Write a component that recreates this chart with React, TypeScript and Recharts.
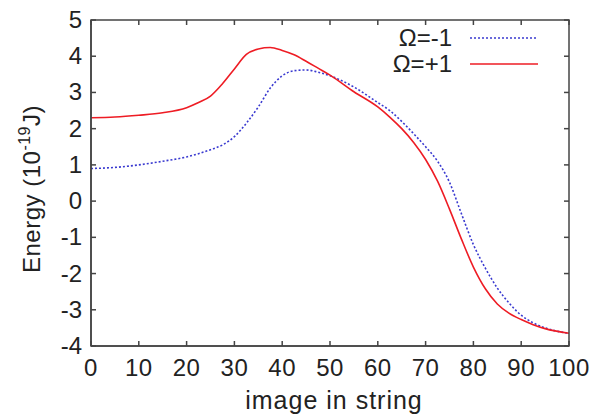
import React from 'react';
import { LineChart, Line, XAxis, YAxis } from 'recharts';

// image index along the string
const images = [0, 5, 10, 15, 20, 22.5, 25, 27.5, 30, 32.5, 35, 37.5, 40, 42.5, 45, 47.5, 50, 55, 60, 62.5, 65, 67.5, 70, 72.5, 75, 77.5, 80, 82.5, 85, 87.5, 90, 92.5, 95, 100];

// Energy in 1e-19 J
const omegaMinus = [0.9, 0.93, 1.0, 1.1, 1.22, 1.31, 1.42, 1.55, 1.78, 2.15, 2.6, 3.12, 3.46, 3.6, 3.62, 3.56, 3.46, 3.15, 2.72, 2.5, 2.2, 1.86, 1.5, 1.1, 0.52, -0.35, -1.2, -1.85, -2.4, -2.82, -3.15, -3.36, -3.5, -3.65];
const omegaPlus = [2.3, 2.32, 2.37, 2.44, 2.58, 2.72, 2.9, 3.24, 3.65, 4.05, 4.2, 4.24, 4.16, 4.04, 3.86, 3.67, 3.48, 3.02, 2.6, 2.32, 2.0, 1.62, 1.15, 0.55, -0.22, -1.05, -1.82, -2.42, -2.84, -3.1, -3.27, -3.41, -3.52, -3.65];

const xTicks = [0, 10, 20, 30, 40, 50, 60, 70, 80, 90, 100];
const yTicks = [-4, -3, -2, -1, 0, 1, 2, 3, 4, 5];

const data = images.map((x, i) => ({ x, minus: omegaMinus[i], plus: omegaPlus[i] }));

const font = 'Liberation Sans, Arial, sans-serif';
const axisColor = '#444';
const textColor = '#222';
const blue = '#3a3ad0';
const red = '#ee1c24';
const TICK = 5;
const GAP = 12;

// plot box (margin + axis sizes below)
const PL = 91;
const PT = 20;
const PW = 478;
const PH = 326;

const BottomTick = (p: any) => (
  <text x={p.x} y={p.y + 18} textAnchor="middle" fontSize={24} letterSpacing={0.5} fontFamily={font} fill={textColor}>
    {p.payload.value}
  </text>
);

const LeftTick = (p: any) => (
  <text x={p.x + 3} y={p.y + 8} textAnchor="end" fontSize={24} fontFamily={font} fill={textColor}>
    {p.payload.value}
  </text>
);

const XLabel = (props: any) => {
  const vb = props.viewBox || {};
  return (
    <text x={(vb.x || 0) + (vb.width || 0) / 2 + 4} y={409} textAnchor="middle" fontSize={25} letterSpacing={1} fontFamily={font} fill={textColor}>
      image in string
    </text>
  );
};

const YLabel = (props: any) => {
  const vb = props.viewBox || {};
  const cy = (vb.y || 0) + (vb.height || 0) / 2 + 6;
  const cx = 40;
  return (
    <text
      x={cx}
      y={cy}
      transform={`rotate(-90, ${cx}, ${cy})`}
      textAnchor="middle"
      fontSize={24}
      letterSpacing={0.5}
      fontFamily={font}
      fill={textColor}
    >
      Energy (10<tspan fontSize={16} dy={-10}>-19</tspan>
      <tspan dy={10}>J)</tspan>
    </text>
  );
};

// gnuplot style box with inward ticks on all four sides
const Frame = () => {
  const xs = xTicks.map((v) => PL + (v / 100) * PW);
  const ys = yTicks.map((v) => PT + ((5 - v) / 9) * PH);
  return (
    <svg width={599} height={418} style={{ position: 'absolute', left: 0, top: 0, pointerEvents: 'none' }}>
      <rect x={PL} y={PT} width={PW} height={PH} fill="none" stroke={axisColor} strokeWidth={1.5} />
      {xs.map((x, i) => (
        <g key={'x' + i}>
          <line x1={x} y1={PT + PH} x2={x} y2={PT + PH - TICK} stroke={axisColor} strokeWidth={1.5} />
          <line x1={x} y1={PT} x2={x} y2={PT + TICK} stroke={axisColor} strokeWidth={1.5} />
        </g>
      ))}
      {ys.map((y, i) => (
        <g key={'y' + i}>
          <line x1={PL} y1={y} x2={PL + TICK} y2={y} stroke={axisColor} strokeWidth={1.5} />
          <line x1={PL + PW} y1={y} x2={PL + PW - TICK} y2={y} stroke={axisColor} strokeWidth={1.5} />
        </g>
      ))}
    </svg>
  );
};

const LegendBox = () => {
  const rows = [
    { label: 'Ω=-1', color: blue, dash: '2 2' },
    { label: 'Ω=+1', color: red, dash: undefined },
  ];
  return (
    <div style={{ position: 'absolute', top: 25, left: 300, width: 240, fontFamily: font, fontSize: 24, color: textColor }}>
      {rows.map((r) => (
        <div key={r.label} style={{ display: 'flex', alignItems: 'center', height: 26, justifyContent: 'flex-end' }}>
          <span style={{ marginRight: 18 }}>{r.label}</span>
          <svg width={70} height={6}>
            <line x1={0} y1={3} x2={68} y2={3} stroke={r.color} strokeWidth={1.6} strokeDasharray={r.dash} />
          </svg>
        </div>
      ))}
    </div>
  );
};

export default function App() {
  return (
    <div style={{ position: 'absolute', left: 0, top: 0, width: 599, height: 418, background: '#fff' }}>
      <LineChart width={599} height={418} data={data} margin={{ top: PT, right: 599 - PL - PW, bottom: 0, left: 0 }}>
        <XAxis
          dataKey="x"
          type="number"
          domain={[0, 100]}
          ticks={xTicks}
          height={418 - PT - PH}
          tickSize={0}
          tickMargin={GAP}
          tickLine={false}
          stroke={axisColor}
          strokeWidth={1.5}
          tick={<BottomTick />}
          interval={0}
          label={{ content: <XLabel /> }}
        />
        <YAxis
          type="number"
          domain={[-4, 5]}
          ticks={yTicks}
          width={PL}
          tickSize={0}
          tickMargin={GAP}
          tickLine={false}
          interval={0}
          stroke={axisColor}
          strokeWidth={1.5}
          tick={<LeftTick />}
          label={{ content: <YLabel /> }}
        />
        <Line
          type="monotone"
          dataKey="minus"
          stroke={blue}
          strokeWidth={1.6}
          strokeDasharray="2 2"
          dot={false}
          isAnimationActive={false}
        />
        <Line
          type="monotone"
          dataKey="plus"
          stroke={red}
          strokeWidth={1.6}
          dot={false}
          isAnimationActive={false}
        />
      </LineChart>
      <Frame />
      <LegendBox />
    </div>
  );
}
